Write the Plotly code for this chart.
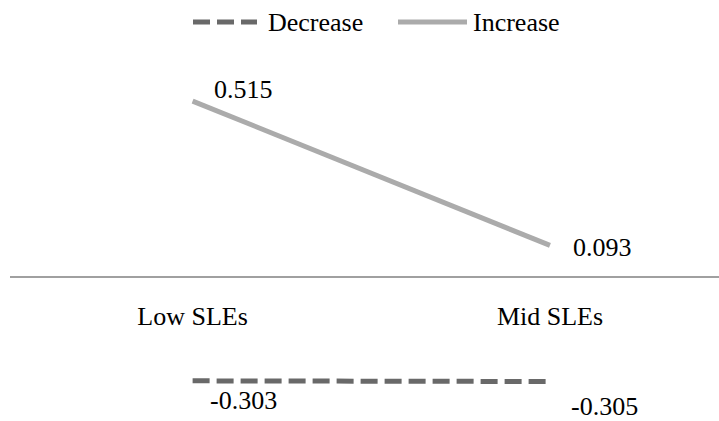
import plotly.graph_objects as go

categories = ["Low SLEs", "Mid SLEs"]
increase = [0.515, 0.093]
decrease = [-0.303, -0.305]
series_names = ["Decrease", "Increase"]

FONT = "Liberation Serif, Times New Roman, DejaVu Serif, serif"
W, H = 719, 421
L, R, T, B = 10, 0, 72, 7
PW, PH = W - L - R, H - T - B

def px_x(p):
    return (p - L) / PW

def px_y(p):
    return (H - B - p) / PH

dec_color = "#696969"
inc_color = "#ababab"

fig = go.Figure()
fig.add_trace(go.Scatter(x=categories, y=decrease, mode="lines", name=series_names[0],
                         line=dict(color=dec_color, width=5, dash="17px,7px"),
                         showlegend=False))
fig.add_trace(go.Scatter(x=categories, y=increase, mode="lines", name=series_names[1],
                         line=dict(color=inc_color, width=5),
                         showlegend=False))

annotations = []
inc_offsets = [(51, 12), (53, -2)]
dec_offsets = [(51, -20), (55, -25)]
for i, c in enumerate(categories):
    annotations.append(dict(x=c, y=increase[i], text=f"{increase[i]:.3f}", showarrow=False,
                            xshift=inc_offsets[i][0], yshift=inc_offsets[i][1],
                            font=dict(family=FONT, size=26, color="black")))
    annotations.append(dict(x=c, y=decrease[i], text=f"{decrease[i]:.3f}", showarrow=False,
                            xshift=dec_offsets[i][0], yshift=dec_offsets[i][1],
                            font=dict(family=FONT, size=26, color="black")))

# manual legend
shapes = [
    dict(type="line", xref="paper", yref="paper", x0=px_x(193), x1=px_x(257), y0=px_y(22), y1=px_y(22),
         line=dict(color=dec_color, width=5, dash="17px,7px")),
    dict(type="line", xref="paper", yref="paper", x0=px_x(398), x1=px_x(467), y0=px_y(22), y1=px_y(22),
         line=dict(color=inc_color, width=5)),
]
annotations.append(dict(xref="paper", yref="paper", x=px_x(266), y=px_y(22), text=series_names[0],
                        showarrow=False, xanchor="left", yanchor="middle",
                        font=dict(family=FONT, size=26, color="black")))
annotations.append(dict(xref="paper", yref="paper", x=px_x(471), y=px_y(22), text=series_names[1],
                        showarrow=False, xanchor="left", yanchor="middle",
                        font=dict(family=FONT, size=26, color="black")))

fig.update_layout(
    width=W, height=H,
    margin=dict(l=L, r=R, t=T, b=B),
    paper_bgcolor="white", plot_bgcolor="white",
    showlegend=False,
    font=dict(family=FONT, size=26, color="black"),
    xaxis=dict(type="category", range=[-0.511, 1.473], anchor="free", position=0.4,
               showline=True, linecolor="#a0a0a0", linewidth=2, showgrid=False, zeroline=False,
               ticks="", ticklabelstandoff=16,
               tickfont=dict(family=FONT, size=26, color="black")),
    yaxis=dict(range=[-0.4, 0.6], visible=False, showgrid=False, zeroline=False),
    annotations=annotations,
    shapes=shapes,
)

fig.write_html("out.html", config={"displayModeBar": False},
               post_script="document.body.style.margin='0px';document.body.style.overflow='hidden';")
